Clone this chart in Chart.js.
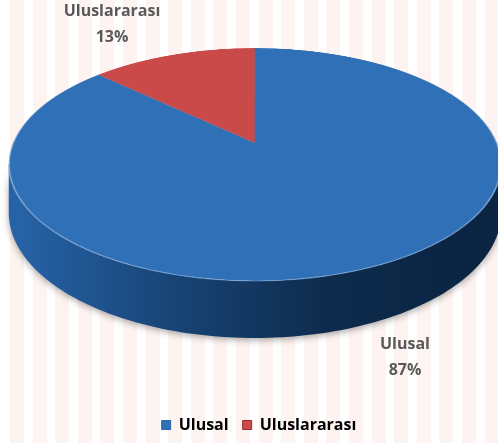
<!DOCTYPE html>
<html>
<head>
<meta charset="utf-8">
<script src="https://cdn.jsdelivr.net/npm/chart.js@4.4.1/dist/chart.umd.min.js"></script>
<style>
  html, body { margin: 0; padding: 0; background: #fff; }
  #wrap { width: 498px; height: 443px; }
</style>
</head>
<body>
<div id="wrap"><canvas id="chart" width="498" height="443"></canvas></div>
<script>
const labels = ['Ulusal', 'Uluslararası'];
const values = [87, 13];
const percentLabels = ['87%', '13%'];

const topColors = [['#3070b7', '#2c67ac'], ['#c94a49', '#9e2b2d']];
const sideColors = [['#2662a6', '#174374', '#0e2b4c', '#0a2442'], ['#8e2426', '#6a1a1c', '#4f1214', '#3f0c0e']];

// perspective of the disc: screen y = (P*v + Q) / (1 + C*v), x = CX + K*u / (1 + C*v)
const CX = 255, K = 242, P = 86.1, Q = 143, C = -0.1845, DEPTH = 46.5;

function proj(u, v, h) {
    const w = 1 + C * v;
    return { x: CX + K * u / w, y: (P * v + Q) / w + h * DEPTH / w };
}

function paintStripes(ctx, w, h) {
    ctx.fillStyle = '#ffffff';
    ctx.fillRect(0, 0, w, h);
    ctx.fillStyle = '#fdf3f0';
    for (let x = 10; x < w; x += 22.6) {
        ctx.fillRect(Math.round(x), 0, 14, h);
    }
}

const stripes = {
    id: 'stripes',
    beforeDraw(chart) {
        const ctx = chart.ctx;
        ctx.save();
        paintStripes(ctx, chart.width, chart.height);
        ctx.restore();
    }
};

function sideGradient(ctx, cols) {
    const g = ctx.createLinearGradient(12, 0, 500, 0);
    g.addColorStop(0.016, cols[0]);
    g.addColorStop(0.344, cols[1]);
    g.addColorStop(0.65, cols[2]);
    g.addColorStop(0.96, cols[3]);
    return g;
}

const pie3d = {
    id: 'pie3d',
    afterDatasetsDraw(chart) {
        const ctx = chart.ctx;
        const meta = chart.getDatasetMeta(0);
        const first = meta.data[0];
        const x0 = first.x, y0 = first.y, R = first.outerRadius;

        // take the flat pie that Chart.js drew
        const size = Math.ceil(2 * R) + 2;
        const off = document.createElement('canvas');
        off.width = size; off.height = size;
        const octx = off.getContext('2d');
        octx.drawImage(chart.canvas, x0 - R - 1, y0 - R - 1, size, size, 0, 0, size, size);
        octx.globalCompositeOperation = 'destination-in';
        octx.beginPath();
        octx.arc(R + 1, R + 1, R, 0, Math.PI * 2);
        octx.fill();

        ctx.save();
        ctx.beginPath();
        ctx.rect(x0 - R - 3, y0 - R - 3, size + 4, size + 4);
        ctx.clip();
        paintStripes(ctx, chart.width, chart.height);
        ctx.restore();

        // side wall, only the front part is visible
        const t1 = Math.asin(-C), t2 = Math.PI - t1;
        meta.data.forEach((arc, i) => {
            [-2 * Math.PI, 0, 2 * Math.PI].forEach(s => {
                const lo = Math.max(arc.startAngle, s + t1), hi = Math.min(arc.endAngle, s + t2);
                if (hi <= lo) return;
                const n = 120;
                ctx.save();
                ctx.beginPath();
                for (let k = 0; k <= n; k++) {
                    const t = lo + (hi - lo) * k / n;
                    const p = proj(Math.cos(t), Math.sin(t), 0);
                    k === 0 ? ctx.moveTo(p.x, p.y) : ctx.lineTo(p.x, p.y);
                }
                for (let k = n; k >= 0; k--) {
                    const t = lo + (hi - lo) * k / n;
                    const p = proj(Math.cos(t), Math.sin(t), 1);
                    ctx.lineTo(p.x, p.y);
                }
                ctx.closePath();
                ctx.shadowColor = 'rgba(0,0,0,0.35)';
                ctx.shadowBlur = 7;
                ctx.shadowOffsetY = 2;
                ctx.fillStyle = sideGradient(ctx, sideColors[i]);
                ctx.fill();
                ctx.restore();
            });
        });

        // top face, warped row by row
        const vOf = y => Math.max(-1, Math.min(1, (Q - y) / (y * C - P)));
        const yTop = proj(0, -1, 0).y, yBot = proj(0, 1, 0).y;
        for (let y = Math.floor(yTop); y < Math.ceil(yBot); y++) {
            const v1 = vOf(y), v2 = vOf(y + 1);
            if (v2 <= v1) continue;
            const sx = K / (R * (1 + C * (v1 + v2) / 2));
            ctx.drawImage(off, 0, R * v1 + R + 1, size, R * (v2 - v1), CX - sx * (R + 1), y, size * sx, 1);
        }

        // thin light edge on the front rim
        ctx.save();
        ctx.beginPath();
        for (let k = 0; k <= 120; k++) {
            const t = t1 + (t2 - t1) * k / 120;
            const p = proj(Math.cos(t), Math.sin(t), 0);
            k === 0 ? ctx.moveTo(p.x, p.y) : ctx.lineTo(p.x, p.y);
        }
        ctx.strokeStyle = 'rgba(110,160,220,0.55)';
        ctx.lineWidth = 1;
        ctx.stroke();
        ctx.restore();
    },
    afterDraw(chart) {
        const ctx = chart.ctx;
        ctx.save();
        ctx.fillStyle = '#595959';
        ctx.font = 'bold 16px "Open Sans"';
        ctx.textAlign = 'center';
        ctx.textBaseline = 'middle';
        ctx.fillText(labels[1], 112, 11);
        ctx.fillText(percentLabels[1], 112, 37);
        ctx.fillText(labels[0], 405, 344);
        ctx.fillText(percentLabels[0], 405, 370);
        ctx.restore();
    }
};

function topFill(context) {
    const chart = context.chart;
    const arc = chart.getDatasetMeta(0).data[context.dataIndex];
    const i = context.dataIndex;
    if (!arc || !arc.outerRadius) return topColors[i][0];
    const g = chart.ctx.createLinearGradient(0, arc.y - arc.outerRadius, 0, i === 1 ? arc.y : arc.y + arc.outerRadius);
    g.addColorStop(0, topColors[i][0]);
    g.addColorStop(1, topColors[i][1]);
    return g;
}

new Chart(document.getElementById('chart'), {
    type: 'pie',
    data: {
        labels: labels,
        datasets: [{
            data: values,
            backgroundColor: topFill,
            borderWidth: 0
        }]
    },
    options: {
        responsive: false,
        animation: false,
        layout: { padding: { top: 10, bottom: 0, left: 20 } },
        plugins: {
            tooltip: { enabled: false },
            legend: {
                position: 'bottom',
                labels: {
                    color: '#595959',
                    font: { family: 'Open Sans', size: 16, weight: 'bold' },
                    boxWidth: 9,
                    boxHeight: 9,
                    padding: 14,
                    generateLabels() {
                        return labels.map((l, i) => ({
                            text: l,
                            fillStyle: topColors[i][0],
                            strokeStyle: topColors[i][1],
                            lineWidth: 1,
                            index: i
                        }));
                    }
                }
            }
        }
    },
    plugins: [stripes, pie3d]
});
</script>
</body>
</html>
